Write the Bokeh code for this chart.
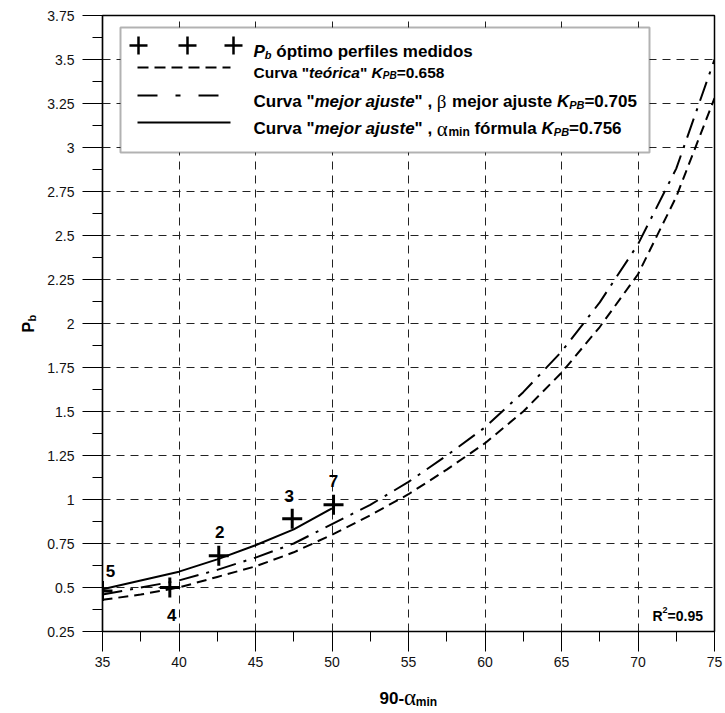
import math

from bokeh.plotting import figure
from bokeh.models import Range1d, FixedTicker, Label, BoxAnnotation, Arrow
from bokeh.embed import file_html
from bokeh.resources import INLINE

# ---------------------------------------------------------------- data
# optimum P_b measured on each profile
profile_ids = ["5", "4", "2", "3", "7"]
alpha_meas = [35.0, 39.4, 42.6, 47.4, 50.1]
pb_meas = [0.48, 0.50, 0.68, 0.89, 0.97]

# "teórica" curve (K_PB = 0.658) and best-fit beta curve (K_PB = 0.705)
curve_alpha = [35, 37.5, 40, 42.5, 45, 47.5, 50, 52.5, 55, 57.5, 60, 62.5,
               65, 67.5, 70, 72.5, 75]
pb_teorica = [0.43, 0.46, 0.50, 0.56, 0.62, 0.70, 0.80, 0.91, 1.03, 1.17,
              1.32, 1.50, 1.72, 1.98, 2.28, 2.72, 3.28]
pb_beta_fit = [0.46, 0.50, 0.54, 0.60, 0.67, 0.75, 0.86, 0.97, 1.10, 1.25,
               1.41, 1.61, 1.84, 2.12, 2.45, 2.88, 3.50]

# best-fit curve with alpha_min formula (K_PB = 0.756)
fit_alpha = [35, 37.5, 40, 42.5, 45, 47.5, 50]
pb_alpha_fit = [0.49, 0.54, 0.59, 0.66, 0.74, 0.83, 0.95]

# axes
X0, X1 = 35, 75
Y0, Y1 = 0.25, 3.75
x_ticks = [35, 40, 45, 50, 55, 60, 65, 70, 75]
x_minor_ticks = [37.5, 42.5, 47.5, 52.5, 57.5, 62.5, 67.5, 72.5]
y_ticks = [0.25, 0.5, 0.75, 1.0, 1.25, 1.5, 1.75, 2.0, 2.25, 2.5, 2.75,
           3.0, 3.25, 3.5, 3.75]
y_tick_labels = ["0.25", "0.5", "0.75", "1", "1.25", "1.5", "1.75", "2",
                 "2.25", "2.5", "2.75", "3", "3.25", "3.5", "3.75"]
y_minor_ticks = [0.375, 0.625, 0.875, 1.125, 1.375, 1.625, 1.875, 2.125,
                 2.375, 2.625, 2.875, 3.125, 3.375, 3.625]

# ---------------------------------------------------------------- layout
W, H = 725, 713
LEFT, RIGHT, TOP, BOTTOM = 102, 11, 15, 82
FRAME_W = W - LEFT - RIGHT
FRAME_H = H - TOP - BOTTOM

SANS = "Liberation Sans"
SERIF = "Liberation Serif"


def sx(px):
    """page x (px) -> frame screen x"""
    return px - LEFT


def sy(py):
    """page y (px, downwards) -> frame screen y (upwards)"""
    return (H - BOTTOM) - py


def xd(px):
    """page x (px) -> data x"""
    return X0 + (px - LEFT) * (X1 - X0) / FRAME_W


def yd(py):
    """page y (px) -> data y"""
    return Y0 + ((H - BOTTOM) - py) * (Y1 - Y0) / FRAME_H


# advance widths of Arial/Liberation Sans Bold (1/1000 em)
BOLD_W = {
    " ": 278, '"': 474, ",": 278, ".": 278, "=": 584, "-": 333,
    "0": 556, "1": 556, "2": 556, "3": 556, "4": 556, "5": 556, "6": 556,
    "7": 556, "8": 556, "9": 556,
    "B": 722, "C": 722, "K": 722, "P": 667, "R": 722,
    "a": 556, "b": 611, "c": 556, "d": 611, "e": 556, "f": 333, "i": 278,
    "j": 278, "l": 278, "m": 889, "n": 611, "o": 611, "p": 611, "r": 389,
    "s": 556, "t": 333, "u": 611, "v": 556, "á": 556, "ó": 611,
}


def text_width(s, size, font=SANS):
    if font == SERIF:
        return 0.55 * size * len(s)
    return sum(BOLD_W.get(c, 556) for c in s) * size / 1000.0


p = figure(width=W, height=H, x_range=Range1d(X0, X1), y_range=Range1d(Y0, Y1),
           output_backend="svg", toolbar_location=None,
           min_border_left=LEFT, min_border_right=RIGHT,
           min_border_top=TOP, min_border_bottom=BOTTOM)
p.background_fill_color = "white"
p.border_fill_color = "white"
p.outline_line_color = "black"
p.outline_line_width = 1.5

p.xaxis.ticker = FixedTicker(ticks=x_ticks, minor_ticks=x_minor_ticks)
p.yaxis.ticker = FixedTicker(ticks=y_ticks, minor_ticks=y_minor_ticks)
p.yaxis.major_label_overrides = {t: s for t, s in zip(y_ticks, y_tick_labels)}

for ax in (p.xaxis[0], p.yaxis[0]):
    ax.axis_line_color = "black"
    ax.axis_line_width = 1.2
    ax.major_tick_line_color = "black"
    ax.minor_tick_line_color = "black"
    ax.major_tick_in = 0
    ax.major_tick_out = 20
    ax.minor_tick_in = 0
    ax.minor_tick_out = 10
    ax.major_label_text_font = SANS
    ax.major_label_text_font_size = "14px"
    ax.major_label_text_color = "#111111"
p.xaxis.major_label_standoff = 5
p.yaxis.major_label_standoff = 8

p.xgrid.ticker = FixedTicker(ticks=x_ticks)
p.ygrid.ticker = FixedTicker(ticks=y_ticks)
for g in (p.xgrid[0], p.ygrid[0]):
    g.grid_line_color = "#222222"
    g.grid_line_width = 1
    g.grid_line_dash = "8 6"

# ---------------------------------------------------------------- curves
p.line(curve_alpha, pb_teorica, line_color="black", line_width=2, line_dash="10 6")
p.line(curve_alpha, pb_beta_fit, line_color="black", line_width=2, line_dash="20 8 3 8")
p.line(fit_alpha, pb_alpha_fit, line_color="black", line_width=2)
p.scatter(alpha_meas, pb_meas, marker="cross", size=20, line_width=3, line_color="black")

# profile numbers next to each measured point (screen offsets, y up)
label_offsets = {"5": (8, 20), "4": (2, -27), "2": (1, 24), "3": (-3, 23), "7": (0, 24)}
for pid, a, pb in zip(profile_ids, alpha_meas, pb_meas):
    dx, dy = label_offsets[pid]
    p.add_layout(Label(x=a, y=pb, x_offset=dx, y_offset=dy, text=pid,
                       text_align="center", text_baseline="middle",
                       text_font=SANS, text_font_style="bold",
                       text_font_size="17px", text_color="black"))


def put_text(px, py, text, size=15, style="bold", font=SANS, angle=0.0, panel="center"):
    common = dict(text=text, angle=angle, text_align="left",
                  text_baseline="alphabetic", text_font=font,
                  text_font_style=style, text_font_size=f"{size}px",
                  text_color="black")
    if panel == "center":
        p.add_layout(Label(x=sx(px), y=sy(py), x_units="screen", y_units="screen", **common))
    else:
        # texts outside the frame live in a side panel, placed in data units
        p.add_layout(Label(x=xd(px), y=yd(py), **common), panel)


def put_segment(px0, py0, px1, py1, width=2, dash="solid"):
    p.add_layout(Arrow(x_start=sx(px0), y_start=sy(py0), x_end=sx(px1), y_end=sy(py1),
                       start_units="screen", end_units="screen", end=None,
                       line_color="black", line_width=width, line_dash=dash))


def put_runs(px, py, runs):
    """write a sequence of (text, size, style, font, baseline shift) runs"""
    x = px
    for text, size, style, font, shift in runs:
        core = text.strip()
        lead = text[: len(text) - len(text.lstrip())]
        if core:
            put_text(x + text_width(lead, size, font), py + shift, core,
                     size=size, style=style, font=font)
        x += text_width(text, size, font)


# ---------------------------------------------------------------- legend
p.add_layout(BoxAnnotation(left=sx(120), right=sx(649), top=sy(27), bottom=sy(152),
                           left_units="screen", right_units="screen",
                           top_units="screen", bottom_units="screen",
                           fill_color="white", fill_alpha=1.0,
                           line_color="black", line_width=2, level="annotation"))

rows_y = [45, 67, 95, 122]
sample_x0, sample_x1 = 137, 230
text_x = 253
B, BI, N = "bold", "bold italic", "normal"

for cx in (138, 187, 233):
    put_segment(cx - 9, rows_y[0], cx + 9, rows_y[0], width=2.5)
    put_segment(cx, rows_y[0] - 9, cx, rows_y[0] + 9, width=2.5)
put_segment(sample_x0, rows_y[1], sample_x1, rows_y[1], dash="11 6")
put_segment(sample_x0, rows_y[2], sample_x1, rows_y[2], dash="20 18 5 18")
put_segment(sample_x0, rows_y[3], sample_x1, rows_y[3])

put_runs(text_x, rows_y[0] + 6, [
    ("P", 17, BI, SANS, 0), ("b", 11, BI, SANS, 3),
    (" óptimo perfiles medidos", 17, B, SANS, 0)])
put_runs(text_x, rows_y[1] + 5, [
    ('Curva "', 15.5, B, SANS, 0), ("teórica", 15.5, BI, SANS, 0), ('" ', 15.5, B, SANS, 0),
    ("K", 15.5, BI, SANS, 0), ("PB", 10, BI, SANS, 3), ("=0.658", 15.5, B, SANS, 0)])
put_runs(text_x, rows_y[2] + 6, [
    ('Curva "', 17, B, SANS, 0), ("mejor ajuste", 17, BI, SANS, 0), ('" , ', 17, B, SANS, 0),
    ("β", 19, N, SERIF, 0), (" mejor ajuste ", 17, B, SANS, 0),
    ("K", 17, BI, SANS, 0), ("PB", 11, BI, SANS, 3), ("=0.705", 17, B, SANS, 0)])
put_runs(text_x, rows_y[3] + 6, [
    ('Curva "', 17, B, SANS, 0), ("mejor ajuste", 17, BI, SANS, 0), ('" , ', 17, B, SANS, 0),
    ("α", 21, N, SERIF, 0), ("min", 12, B, SANS, 3), (" fórmula ", 17, B, SANS, 0),
    ("K", 17, BI, SANS, 0), ("PB", 11, BI, SANS, 3), ("=0.756", 17, B, SANS, 0)])

# ---------------------------------------------------------------- R²
put_runs(652, 615, [("R", 14, B, SANS, 0), ("2", 9, B, SANS, -6), ("=0.95", 14, B, SANS, 0)])

# ---------------------------------------------------------------- axis titles
# x title: 90-α_min, centred under the frame
title_x, title_y = 379, 697
put_text(title_x, title_y, "90-", size=17, style="bold", panel="below")
put_text(title_x + text_width("90-", 17), title_y, "α", size=23, style=N, font=SERIF, panel="left")
put_text(title_x + text_width("90-", 17) + text_width("α", 23, SERIF) - 1, title_y + 4, "min",
         size=12, style="bold", panel="above")

# y title: P_b, rotated
put_text(28, 332, "P", size=16, style="bold", angle=math.pi / 2, panel="left")
put_text(31, 321, "b", size=11, style="bold", angle=math.pi / 2, panel="left")

open("out.html", "w").write(file_html(p, INLINE))
